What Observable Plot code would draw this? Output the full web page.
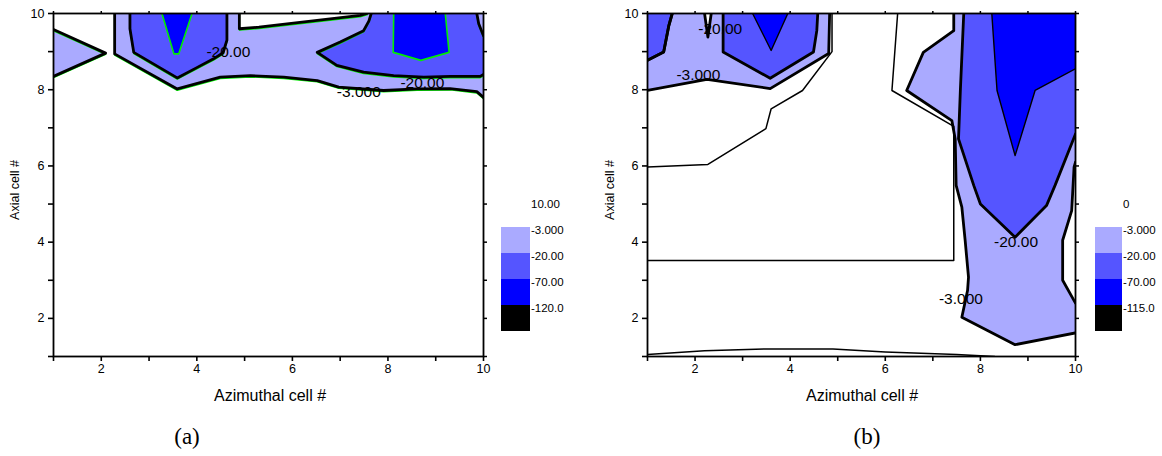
<!DOCTYPE html>
<html>
<head>
<meta charset="utf-8">
<script src="https://cdn.jsdelivr.net/npm/d3@7"></script>
<script src="https://cdn.jsdelivr.net/npm/@observablehq/plot@0.6"></script>
<style>
  html, body { margin: 0; padding: 0; background: #fff; }
  #root { position: relative; width: 1162px; height: 456px; overflow: hidden; background: #fff;
          font-family: "Liberation Sans", Arial, sans-serif; color: #000; }
  .abs { position: absolute; white-space: nowrap; }
  .xt { font-size: 16px; transform: translate(-50%, -50%); }
  .yt { font-size: 12.5px; transform: translate(-50%, -50%) rotate(-90deg); }
  .cap { font-family: "Liberation Serif", "Times New Roman", serif; font-size: 23px; transform: translate(-50%, -50%); }
  .lg { font-size: 11.5px; transform: translate(0, -50%); }
  .sw { position: absolute; }
</style>
</head>
<body>
<div id="root"></div>
<script>
// ---------- data (azimuthal cell #, axial cell #) ----------
const xTicks = [1, 2, 3, 4, 5, 6, 7, 8, 9, 10];
const yTicks = [1, 2, 3, 4, 5, 6, 7, 8, 9, 10];
const levels = [-3, -20, -70, -120];

// Panel (a): regions below each contour level
const aLight = [
  [[2.28,10],[2.28,8.94],[3.59,8.02],[4.49,8.33],[5.12,8.37],[5.82,8.33],[6.52,8.24],[6.97,8.07],[7.91,7.98],[8.61,8.02],[9.3,8.03],[9.86,7.95],[10,7.8],[10,10],[7.56,10],[7.42,9.95],[5.3,9.64],[4.89,9.6],[4.89,10]],
  [[1,9.58],[2.09,8.96],[1,8.35]]
];
const aMedium = [
  [[2.6,10],[2.6,9.6],[2.68,8.98],[3.59,8.31],[4.0,8.58],[4.35,8.81],[4.55,8.97],[4.63,9.3],[4.63,10]],
  [[7.65,10],[7.6,9.8],[7.49,9.55],[7.0,9.25],[6.52,8.98],[6.93,8.64],[7.49,8.46],[8.12,8.37],[8.75,8.33],[9.31,8.35],[9.93,8.35],[10,8.4],[10,9.42],[9.9,9.73],[9.86,10]]
];
const aDark = [
  [[3.27,10],[3.52,8.94],[3.62,8.94],[3.9,10]],
  [[8.12,10],[8.11,8.98],[8.69,8.77],[9.28,8.98],[9.2,10]]
];
const aLabels = [
  {x: 4.66, y: 8.98, text: "-20.00"},
  {x: 8.72, y: 8.18, text: "-20.00"},
  {x: 7.39, y: 7.95, text: "-3.000"}
];

// Panel (b)
const bLight = [
  [[1.52,10],[1.45,9.69],[1.34,8.99],[1,8.77],[1,7.98],[2.25,8.27],[3.58,8.03],[4.81,8.95],[4.83,10],[2.34,10],[2.27,9.38],[2.2,10]],
  [[7.44,10],[7.44,9.55],[6.8,8.98],[6.45,7.98],[7.4,7.19],[7.47,6.71],[7.49,5.49],[7.61,4.92],[7.68,4.04],[7.75,3.08],[7.73,2.73],[7.61,2.03],[8.73,1.31],[10,1.62],[10,2.4],[9.73,3.0],[9.73,4.05],[9.92,4.83],[9.97,5.97],[10,6.1],[10,10]]
];
const bMedium = [
  [[1,10],[1.52,10],[1.45,9.69],[1.34,8.99],[1,8.77]],
  [[2.59,10],[2.59,8.99],[3.58,8.3],[4.49,8.99],[4.56,9.55],[4.58,10]],
  [[7.65,10],[7.58,8.02],[7.54,6.71],[7.86,5.49],[8.0,5.0],[8.73,4.13],[9.39,4.96],[9.57,5.49],[10,6.84],[10,10]]
];
const bDark = [
  [[3.21,10],[3.6,9.03],[3.95,10]],
  [[8.24,10],[8.35,7.98],[8.73,6.27],[9.15,7.98],[10,8.55],[10,10]]
];
// level-0 contour lines of panel (b)
const bZero = [
  [[4.88,10],[4.88,9.0],[4.26,7.98],[3.6,7.5],[3.49,6.98],[2.27,6.04],[1,5.97]],
  [[6.26,10],[6.14,7.98],[7.44,7.04],[7.44,3.52],[1,3.52]],
  [[1,1.05],[2.2,1.15],[3.5,1.2],[4.9,1.2],[6.0,1.12],[7.5,1.05],[8.3,1.0]]
];
const bLabels = [
  {x: 2.53, y: 9.6, text: "-20.00"},
  {x: 2.07, y: 8.39, text: "-3.000"},
  {x: 8.75, y: 4.0, text: "-20.00"},
  {x: 7.59, y: 2.5, text: "-3.000"}
];

// legends
const legendColors = ["#aaaaff", "#5555ff", "#0000ff", "#000000"];
const legendLabelsA = ["10.00", "-3.000", "-20.00", "-70.00", "-120.0"];
const legendLabelsB = ["0", "-3.000", "-20.00", "-70.00", "-115.0"];

// ---------- helpers ----------
const X0 = 1, X1 = 10, Y0 = 1, Y1 = 10;
function onFrame(a, b) {
  return (a[0] === b[0] && (a[0] === X0 || a[0] === X1)) ||
         (a[1] === b[1] && (a[1] === Y0 || a[1] === Y1));
}
function innerRuns(ring) {
  const n = ring.length;
  const edges = ring.map((p, i) => [p, ring[(i + 1) % n]]);
  const start = edges.findIndex(([a, b]) => onFrame(a, b));
  if (start < 0) return [ring.concat([ring[0]])];
  const runs = []; let cur = null;
  for (let k = 1; k <= n; k++) {
    const [a, b] = edges[(start + k) % n];
    if (onFrame(a, b)) { if (cur) { runs.push(cur); cur = null; } }
    else { if (!cur) cur = [a]; cur.push(b); }
  }
  if (cur) runs.push(cur);
  return runs;
}
function polyRows(rings) {
  return rings.flatMap((r, i) => r.map(([x, y]) => ({x, y, id: i})));
}
function lineRows(rings, closed = true) {
  const rows = []; let id = 0;
  for (const ring of rings) {
    const runs = closed ? innerRuns(ring) : [ring];
    for (const run of runs) { for (const [x, y] of run) rows.push({x, y, id}); id++; }
  }
  return rows;
}

function axes() {
  const fmt = d => (d % 2 === 0 ? String(d) : "");
  return [
    Plot.frame({stroke: "black", strokeWidth: 1.8}),
    Plot.axisX({ticks: xTicks, tickFormat: fmt, tickSize: 5, tickPadding: 3, strokeWidth: 1.6, label: null, fontSize: 12.5}),
    Plot.axisX({anchor: "top", ticks: xTicks, tickFormat: () => "", tickSize: 3, strokeWidth: 1.5, label: null}),
    Plot.axisY({ticks: yTicks, tickFormat: fmt, tickSize: 5, tickPadding: 4, strokeWidth: 1.6, label: null, fontSize: 12.5}),
    Plot.axisY({anchor: "right", ticks: yTicks, tickFormat: () => "", tickSize: 3, strokeWidth: 1.5, label: null})
  ];
}
const common = {
  width: 495, height: 420,
  marginLeft: 53, marginRight: 12, marginTop: 13, marginBottom: 64,
  x: {domain: [1, 10]}, y: {domain: [1, 10]},
  style: {fontFamily: "'Liberation Sans', Arial, sans-serif", fontSize: "12.5px", background: "white", overflow: "visible", color: "black"}
};
const fillMark = (rings, color) => Plot.line(polyRows(rings), {x: "x", y: "y", z: "id", fill: color, stroke: "none", clip: true});
const strokeMark = (rings, color, w, extra = {}) => Plot.line(lineRows(rings), {x: "x", y: "y", z: "id", stroke: color, strokeWidth: w, clip: true, strokeLinejoin: "round", strokeLinecap: "round", ...extra});

// ---------- panel (a) ----------
const chartA = Plot.plot({
  ...common,
  marks: [
    fillMark(aLight, legendColors[0]),
    fillMark(aMedium, legendColors[1]),
    fillMark(aDark, legendColors[2]),
    strokeMark(aLight, "#00ee00", 1.5, {dy: 1.3}),
    strokeMark(aMedium, "#00ee00", 1.5, {dy: 1.3}),
    strokeMark(aDark, "#00ee00", 1.6),
    Plot.text(aLabels, {x: "x", y: "y", text: "text", fontSize: 15.5, fill: "black"}),
    strokeMark(aLight, "black", 2.8),
    strokeMark(aMedium, "black", 2.8),
    ...axes()
  ]
});

// ---------- panel (b) ----------
const chartB = Plot.plot({
  ...common,
  width: 493,
  marks: [
    fillMark(bLight, legendColors[0]),
    fillMark(bMedium, legendColors[1]),
    fillMark(bDark, legendColors[2]),
    Plot.text(bLabels, {x: "x", y: "y", text: "text", fontSize: 15.5, fill: "black"}),
    Plot.line(lineRows(bZero, false), {x: "x", y: "y", z: "id", stroke: "black", strokeWidth: 1.5, clip: true}),
    strokeMark(bDark, "black", 1.4),
    strokeMark(bLight, "black", 2.8),
    strokeMark(bMedium, "black", 2.8),
    ...axes()
  ]
});

// ---------- layout ----------
const root = document.getElementById("root");
function place(el, left, top) { el.style.position = "absolute"; el.style.left = left + "px"; el.style.top = top + "px"; root.appendChild(el); }
function text(cls, str, left, top) { const d = document.createElement("div"); d.className = "abs " + cls; d.textContent = str; place(d, left, top); }
place(chartA, 0, 0);
place(chartB, 594, 0);

text("xt", "Azimuthal cell #", 270, 396);
text("xt", "Azimuthal cell #", 862, 396);
text("yt", "Axial cell #", 15, 190);
text("yt", "Axial cell #", 610, 190);
text("cap", "(a)", 187, 437);
text("cap", "(b)", 867, 437);

function legend(labels, swLeft, swRight) {
  legendColors.forEach((c, i) => {
    const s = document.createElement("div");
    s.className = "sw";
    s.style.width = (swRight - swLeft) + "px";
    s.style.height = "26px";
    s.style.background = c;
    place(s, swLeft, 227 + 26 * i);
  });
  labels.forEach((l, i) => text("lg", l, swRight + 1, 204 + 26 * i));
}
legend(legendLabelsA, 501, 530);
legend(legendLabelsB, 1095, 1122);
</script>
</body>
</html>
